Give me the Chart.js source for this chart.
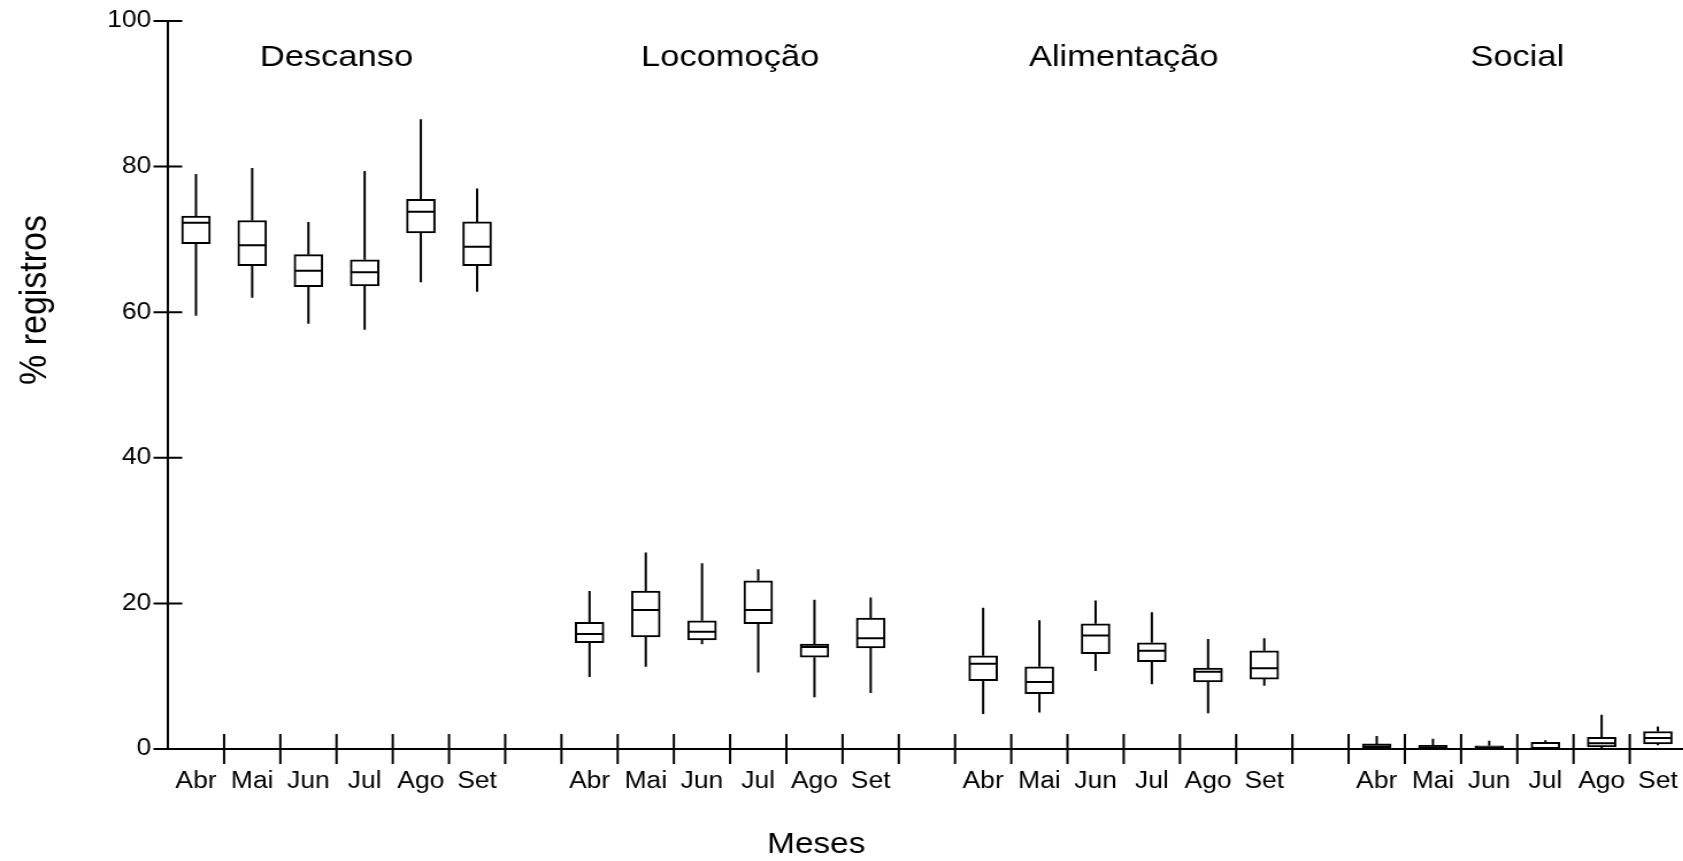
<!DOCTYPE html>
<html>
<head>
<meta charset="utf-8">
<script src="https://cdn.jsdelivr.net/npm/chart.js@4/dist/chart.umd.min.js"></script>
<style>
  html, body { margin: 0; padding: 0; overflow: hidden; background: #fff; }
</style>
</head>
<body>
<!-- the original picture is stretched sideways, so the canvas is drawn narrow and widened by css -->
<canvas id="box-chart" width="1470" height="861" style="display:block;width:1690px;height:861px"></canvas>
<script>
const months = ['Abr', 'Mai', 'Jun', 'Jul', 'Ago', 'Set'];
const groups = ['Descanso', 'Locomoção', 'Alimentação', 'Social'];
const yTicks = [0, 20, 40, 60, 80, 100];

// per month: [min, q1, median, q3, max]
const descanso = [
  [59.5, 69.4, 72.3, 73.2, 79.0],
  [62.0, 66.4, 69.2, 72.6, 79.8],
  [58.4, 63.5, 65.7, 67.9, 72.4],
  [57.6, 63.6, 65.5, 67.2, 79.4],
  [64.1, 70.9, 73.8, 75.5, 86.5],
  [62.8, 66.4, 69.0, 72.4, 77.0]
];
const locomocao = [
  [9.9, 14.6, 15.8, 17.4, 21.7],
  [11.3, 15.4, 19.1, 21.7, 27.0],
  [14.4, 15.0, 16.1, 17.6, 25.5],
  [10.5, 17.2, 19.1, 23.1, 24.7],
  [7.1, 12.6, 14.0, 14.4, 20.5],
  [7.7, 13.9, 15.2, 18.0, 20.8]
];
const alimentacao = [
  [4.8, 9.4, 11.7, 12.8, 19.4],
  [5.0, 7.6, 9.2, 11.3, 17.7],
  [10.7, 13.1, 15.6, 17.2, 20.4],
  [8.9, 12.0, 13.5, 14.6, 18.8],
  [4.9, 9.2, 10.6, 11.1, 15.1],
  [8.7, 9.6, 11.1, 13.5, 15.2]
];
const social = [
  [0, 0.1, 0.35, 0.7, 1.8],
  [0, 0.05, 0.25, 0.5, 1.4],
  [0, 0.05, 0.2, 0.45, 1.15],
  [0, 0.05, 0.1, 0.9, 1.2],
  [0, 0.3, 0.8, 1.6, 4.7],
  [0.5, 0.7, 1.5, 2.4, 3.1]
];

// one empty slot between the behaviour groups
const series = [descanso, locomocao, alimentacao, social];
const labels = [];
const boxes = [];
series.forEach(function(g, gi) {
  g.forEach(function(b, mi) { labels.push(months[mi]); boxes.push(b); });
  if (gi < series.length - 1) { labels.push(''); boxes.push(null); }
});

const FONT = "'Liberation Sans', Arial, sans-serif";
const BOX_W = 25;

// whiskers and medians
const boxPlot = {
  id: 'boxPlot',
  afterDatasetsDraw(chart) {
    const ctx = chart.ctx, x = chart.scales.x, y = chart.scales.y;
    ctx.save();
    ctx.strokeStyle = '#000';
    ctx.lineWidth = 2;
    boxes.forEach(function(b, i) {
      if (!b) return;
      const cx = x.getPixelForValue(i);
      ctx.beginPath();
      if (b[4] > b[3]) { ctx.moveTo(cx, y.getPixelForValue(b[3])); ctx.lineTo(cx, y.getPixelForValue(b[4])); }
      if (b[1] > b[0]) { ctx.moveTo(cx, y.getPixelForValue(b[1])); ctx.lineTo(cx, y.getPixelForValue(b[0])); }
      const my = y.getPixelForValue(b[2]);
      ctx.moveTo(cx - BOX_W / 2 + 1, my);
      ctx.lineTo(cx + BOX_W / 2 - 1, my);
      ctx.stroke();
    });
    ctx.restore();
  }
};

// tick marks that cross the axes, plus the titles
const decorations = {
  id: 'decorations',
  afterDraw(chart) {
    const ctx = chart.ctx, x = chart.scales.x, y = chart.scales.y;
    const area = chart.chartArea;
    const slot = x.getPixelForValue(1) - x.getPixelForValue(0);
    ctx.save();
    ctx.strokeStyle = '#000';
    ctx.lineWidth = 2;
    ctx.beginPath();
    yTicks.forEach(function(v) {
      const py = y.getPixelForValue(v);
      ctx.moveTo(area.left - 12.5, py);
      ctx.lineTo(area.left + 12.5, py);
    });
    for (let i = 1; i <= labels.length; i++) {
      const px = x.getPixelForValue(i - 1) + slot / 2;
      ctx.moveTo(px, area.bottom - 15);
      ctx.lineTo(px, area.bottom + 15);
    }
    ctx.stroke();

    ctx.fillStyle = '#000';
    ctx.textAlign = 'center';
    ctx.textBaseline = 'alphabetic';
    ctx.font = '30px ' + FONT;
    groups.forEach(function(g, gi) {
      const start = gi * 7;
      const cx = (x.getPixelForValue(start + 2) + x.getPixelForValue(start + 3)) / 2;
      ctx.fillText(g, cx, 65.5);
    });

    ctx.font = '29px ' + FONT;
    ctx.fillText('Meses', 710, 853);

    ctx.translate(31, 300);
    ctx.rotate(-Math.PI / 2);
    ctx.textBaseline = 'middle';
    ctx.font = '34px ' + FONT;
    ctx.fillText('% registros', 0, 0);
    ctx.restore();
  }
};

new Chart(document.getElementById('box-chart'), {
  type: 'bar',
  data: {
    labels: labels,
    datasets: [{
      data: boxes.map(function(b) { return b ? [b[1], b[3]] : null; }),
      backgroundColor: '#fff',
      borderColor: '#000',
      borderWidth: 2,
      borderSkipped: false,
      barThickness: BOX_W
    }]
  },
  options: {
    responsive: false,
    animation: false,
    devicePixelRatio: 1,
    layout: { padding: { top: 21, right: 3.5, bottom: 0, left: 0 } },
    plugins: {
      legend: { display: false },
      tooltip: { enabled: false }
    },
    scales: {
      x: {
        type: 'category',
        offset: true,
        grid: { display: false, drawTicks: true, tickLength: 15 },
        border: { display: true, color: '#000', width: 2 },
        ticks: {
          color: '#000',
          font: { family: FONT, size: 23 },
          maxRotation: 0,
          autoSkip: false,
          padding: 4
        },
        afterFit: function(s) { s.height = 112; }
      },
      y: {
        min: 0,
        max: 100,
        grid: { display: false, drawTicks: true, tickLength: 12.5 },
        border: { display: true, color: '#000', width: 2 },
        ticks: {
          stepSize: 20,
          color: '#000',
          font: { family: FONT, size: 23 },
          padding: 2
        },
        afterFit: function(s) { s.width = 146; }
      }
    }
  },
  plugins: [boxPlot, decorations]
});
</script>
</body>
</html>
